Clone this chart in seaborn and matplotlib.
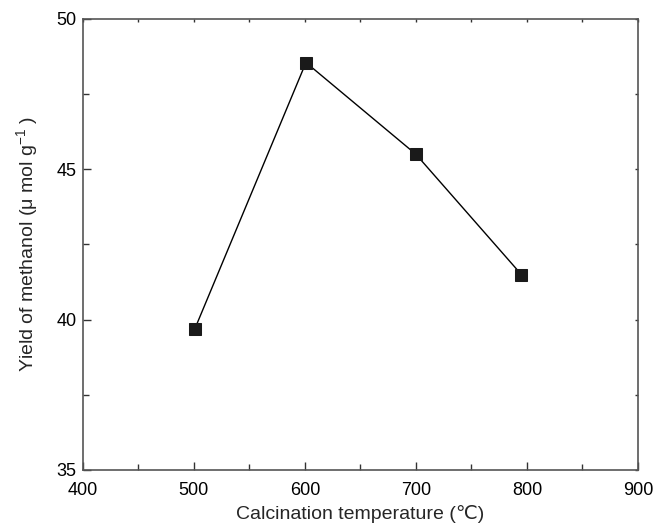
import matplotlib
matplotlib.use("Agg")
import matplotlib.pyplot as plt
import seaborn as sns
import pandas as pd
from matplotlib.ticker import MultipleLocator

temperature = [501, 601, 700, 795]
yield_methanol = [39.7, 48.55, 45.5, 41.5]

sns.set_theme(style="ticks")
plt.rcParams['font.family'] = ['Liberation Sans', 'DejaVu Sans']
plt.rcParams['mathtext.fontset'] = 'custom'
plt.rcParams['mathtext.rm'] = 'Liberation Sans'
plt.rcParams['mathtext.it'] = 'Liberation Sans'

df = pd.DataFrame({"T": temperature, "Y": yield_methanol})

fig = plt.figure(figsize=(6.57, 5.26), dpi=100)
ax = fig.add_axes([0.126, 0.1065, 0.845, 0.8575])
sns.lineplot(data=df, x="T", y="Y", ax=ax, color="black", linewidth=1.0,
             marker="s", markersize=8, markerfacecolor="#1a1a1a",
             markeredgecolor="#1a1a1a")

ax.set_xlim(400, 900)
ax.set_ylim(35, 50)
ax.xaxis.set_major_locator(MultipleLocator(100))
ax.xaxis.set_minor_locator(MultipleLocator(50))
ax.yaxis.set_major_locator(MultipleLocator(5))
ax.yaxis.set_minor_locator(MultipleLocator(2.5))

for s in ax.spines.values():
    s.set_visible(True)
    s.set_color("#555555")
    s.set_linewidth(1.2)

ax.tick_params(which="major", direction="in", length=6, width=1, color="#333333",
               labelsize=13, labelcolor="black", top=True, right=True)
ax.tick_params(which="minor", direction="in", length=4, width=1, color="#333333",
               top=True, right=True)
ax.tick_params(axis="x", which="both", pad=9)
ax.tick_params(axis="y", which="both", pad=4.5)
for t in ax.xaxis.get_major_ticks() + ax.xaxis.get_minor_ticks():
    t.tick2line.set_markersize(2)
for t in ax.yaxis.get_major_ticks() + ax.yaxis.get_minor_ticks():
    t.tick2line.set_markersize(2)

ax.set_xlabel("Calcination temperature (℃)", fontsize=14, labelpad=4)
ax.set_ylabel("Yield of methanol (μ mol g$^{-1}$ )", fontsize=14, labelpad=12)

fig.savefig("out.png", dpi=100)
